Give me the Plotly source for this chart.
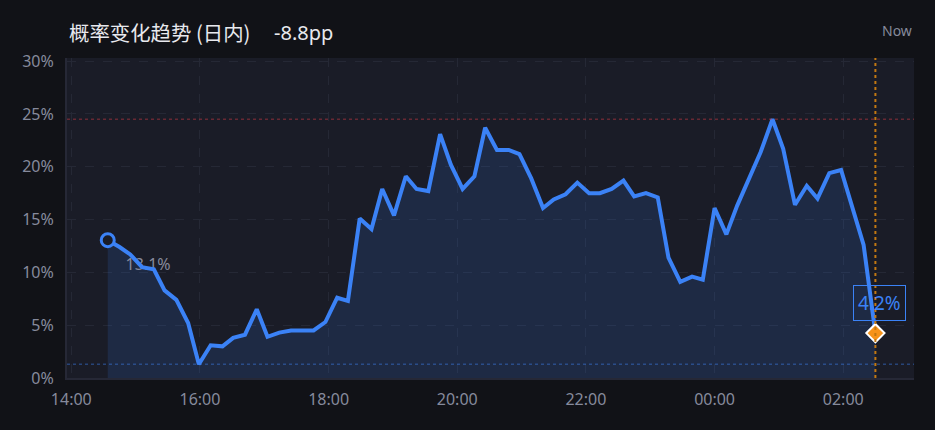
import datetime

import plotly.graph_objects as go

# Intraday probability (%), one reading about every 10-11 minutes.
TIMES = ['14:34', '14:45', '14:55', '15:06', '15:17', '15:27', '15:38', '15:49',
         '15:59', '16:10', '16:21', '16:31', '16:42', '16:53', '17:03', '17:14',
         '17:25', '17:35', '17:46', '17:57', '18:08', '18:18', '18:29', '18:40',
         '18:50', '19:01', '19:12', '19:22', '19:33', '19:44', '19:54', '20:05',
         '20:16', '20:26', '20:37', '20:48', '20:58', '21:09', '21:20', '21:30',
         '21:41', '21:52', '22:03', '22:13', '22:24', '22:35', '22:45', '22:56',
         '23:07', '23:17', '23:28', '23:39', '23:49', '00:00', '00:11', '00:21',
         '00:32', '00:43', '00:54', '01:04', '01:15', '01:26', '01:36', '01:47',
         '01:58', '02:08', '02:19', '02:30']
PROBS = [13.05, 12.4, 11.7, 10.5, 10.3, 8.3, 7.4, 5.2,
         1.3, 3.1, 3.0, 3.8, 4.1, 6.5, 3.9, 4.3,
         4.5, 4.5, 4.5, 5.3, 7.6, 7.3, 15.1, 14.1,
         17.9, 15.4, 19.1, 17.9, 17.7, 23.1, 20.2, 17.9,
         19.1, 23.7, 21.6, 21.6, 21.2, 18.9, 16.1, 16.9,
         17.4, 18.5, 17.5, 17.5, 17.9, 18.7, 17.2, 17.5,
         17.1, 11.4, 9.1, 9.6, 9.3, 16.1, 13.6, 16.3,
         18.9, 21.4, 24.5, 21.7, 16.4, 18.2, 17.0, 19.4,
         19.7, 16.2, 12.6, 4.25]

X_TICKS = ['14:00', '16:00', '18:00', '20:00', '22:00', '00:00', '02:00']
X_RANGE = ['13:56', '03:06']
Y_TICKS = [0, 5, 10, 15, 20, 25, 30]
Y_TICK_LABELS = ['0%', '5%', '10%', '15%', '20%', '25%', '30%']

TITLE = '概率变化趋势 (日内)'
NOW_LABEL = 'Now'
START_DAY = datetime.date(2024, 6, 10)

# Colours.
PAPER_BG = '#111217'
PLOT_BG = '#1a1c27'
BLUE = '#3b82f6'
ORANGE = '#f7931a'
GRID = '#252835'
TICK_COLOR = '#868a9c'


def to_datetimes(hhmm_list, first_hour=14):
    # Times after midnight belong to the next day.
    out = []
    for s in hhmm_list:
        h, m = map(int, s.split(':'))
        day = START_DAY if h >= first_hour - 1 else START_DAY + datetime.timedelta(days=1)
        out.append(datetime.datetime(day.year, day.month, day.day, h, m))
    return out


def main():
    x = to_datetimes(TIMES)
    first, last = PROBS[0], PROBS[-1]
    hi, lo = max(PROBS), min(PROBS)

    fig = go.Figure()

    # Area under the curve.
    fig.add_trace(go.Scatter(x=x, y=PROBS, mode='lines', fill='tozeroy',
                             fillcolor='rgba(59,130,246,0.14)',
                             line=dict(width=0, color=BLUE), hoverinfo='skip'))
    # Opening value label (sits under the line).
    fig.add_trace(go.Scatter(x=[x[0]], y=[first], mode='markers+text',
                             text=['%.1f%%' % first], textposition='bottom right',
                             textfont=dict(size=16, color=TICK_COLOR, family='Noto Sans'),
                             marker=dict(size=27, color='rgba(0,0,0,0)'),
                             hoverinfo='skip'))
    # Main line.
    fig.add_trace(go.Scatter(x=x, y=PROBS, mode='lines',
                             line=dict(width=4, color=BLUE)))
    # Start ring.
    fig.add_trace(go.Scatter(x=[x[0]], y=[first], mode='markers',
                             marker=dict(size=13, color=PLOT_BG,
                                         line=dict(width=3, color=BLUE))))
    # Current value diamond.
    fig.add_trace(go.Scatter(x=[x[-1]], y=[last], mode='markers',
                             marker=dict(symbol='diamond', size=14, color=ORANGE,
                                         line=dict(width=2, color='white'))))

    # High / low reference lines and the "now" line.
    fig.add_hline(y=hi, line=dict(color='rgba(220,60,70,0.4)', width=1.5, dash='dot'))
    fig.add_hline(y=lo, line=dict(color='rgba(59,130,246,0.4)', width=1.5, dash='dot'))
    fig.add_shape(type='line', xref='x', yref='paper', x0=x[-1], x1=x[-1], y0=0, y1=1,
                  line=dict(color='#c27812', width=2, dash='dot'))

    # Current value tag.
    fig.add_annotation(x=x[-1], y=last, text='%.1f%%' % last, showarrow=False,
                       xshift=4, yshift=30, font=dict(size=19, color=BLUE, family='Noto Sans'),
                       bordercolor=BLUE, borderwidth=1, borderpad=4,
                       bgcolor='rgba(0,0,0,0)')

    # Header.
    fig.add_annotation(x=0, y=1.081, xref='paper', yref='paper', xanchor='left',
                       yanchor='middle', text=TITLE, showarrow=False,
                       font=dict(size=20.4, color='#e8e9ee', family='Noto Sans CJK SC'))
    fig.add_annotation(x=0.2417, y=1.081, xref='paper', yref='paper', xanchor='left',
                       yanchor='middle', text='%+.1fpp' % (last - first), showarrow=False,
                       font=dict(size=20, color='#e8e9ee', family='Noto Sans'))
    fig.add_annotation(x=1, y=1.0875, xref='paper', yref='paper', xanchor='right',
                       yanchor='middle', text=NOW_LABEL, showarrow=False,
                       font=dict(size=14, color=TICK_COLOR, family='Noto Sans'))

    fig.update_layout(
        width=935, height=430,
        margin=dict(l=67, r=21, t=58, b=52),
        paper_bgcolor=PAPER_BG, plot_bgcolor=PLOT_BG,
        showlegend=False,
        font=dict(family='Noto Sans', color=TICK_COLOR),
    )
    fig.update_xaxes(range=to_datetimes(X_RANGE), tickvals=to_datetimes(X_TICKS),
                     ticktext=X_TICKS, tickfont=dict(size=16, color=TICK_COLOR),
                     showgrid=True, gridcolor=GRID, griddash='dash', gridwidth=1,
                     showline=True, linecolor='#262836', linewidth=2,
                     zeroline=False, ticks='', ticklabelstandoff=6)
    fig.update_yaxes(range=[0, 30.3], tickvals=Y_TICKS, ticktext=Y_TICK_LABELS,
                     tickfont=dict(size=16, color=TICK_COLOR),
                     showgrid=True, gridcolor=GRID, griddash='dash', gridwidth=1,
                     showline=True, linecolor='#262836', linewidth=2,
                     zeroline=False, ticks='', ticklabelstandoff=8)

    # Page has no margin so the chart fills the window.
    fig.write_html('out.html', config={'displayModeBar': False},
                   post_script="document.body.style.margin='0';")


if __name__ == '__main__':
    main()
